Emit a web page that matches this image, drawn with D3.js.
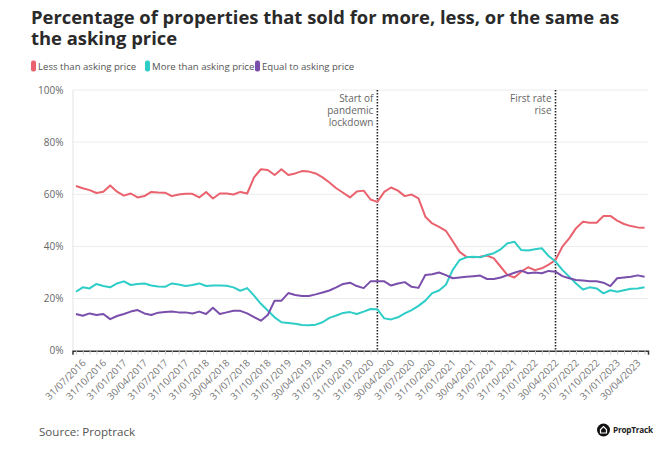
<!DOCTYPE html>
<html>
<head>
<meta charset="utf-8">
<script src="https://cdn.jsdelivr.net/npm/d3@7"></script>
<style>
  html, body { margin: 0; padding: 0; background: #fff; }
  svg { display: block; font-family: "Open Sans", "Noto Sans", sans-serif; }
</style>
</head>
<body>
<svg id="chart" width="659" height="454"></svg>
<script>
const dates = [
  "31/07/2016","31/08/2016","30/09/2016","31/10/2016","30/11/2016","31/12/2016",
  "31/01/2017","28/02/2017","31/03/2017","30/04/2017","31/05/2017","30/06/2017",
  "31/07/2017","31/08/2017","30/09/2017","31/10/2017","30/11/2017","31/12/2017",
  "31/01/2018","28/02/2018","31/03/2018","30/04/2018","31/05/2018","30/06/2018",
  "31/07/2018","31/08/2018","30/09/2018","31/10/2018","30/11/2018","31/12/2018",
  "31/01/2019","28/02/2019","31/03/2019","30/04/2019","31/05/2019","30/06/2019",
  "31/07/2019","31/08/2019","30/09/2019","31/10/2019","30/11/2019","31/12/2019",
  "31/01/2020","29/02/2020","31/03/2020","30/04/2020","31/05/2020","30/06/2020",
  "31/07/2020","31/08/2020","30/09/2020","31/10/2020","30/11/2020","31/12/2020",
  "31/01/2021","28/02/2021","31/03/2021","30/04/2021","31/05/2021","30/06/2021",
  "31/07/2021","31/08/2021","30/09/2021","31/10/2021","30/11/2021","31/12/2021",
  "31/01/2022","28/02/2022","31/03/2022","30/04/2022","31/05/2022","30/06/2022",
  "31/07/2022","31/08/2022","30/09/2022","31/10/2022","30/11/2022","31/12/2022",
  "31/01/2023","28/02/2023","31/03/2023","30/04/2023","31/05/2023","30/06/2023"
];

const lessThanAsking = [
  63.2,62.3,61.6,60.5,61.0,63.4,61.0,59.5,60.3,58.8,59.3,60.9,
  60.7,60.6,59.3,59.9,60.2,60.2,58.8,60.9,58.4,60.3,60.3,59.9,
  60.9,60.3,66.5,69.6,69.3,67.4,69.6,67.4,68.0,68.9,68.7,68.0,
  66.5,64.5,62.3,60.6,58.8,61.1,61.4,58.0,57.1,60.9,62.6,61.4,
  59.3,59.9,58.4,51.4,48.8,47.5,46.0,42.0,37.9,36.0,35.8,36.0,
  36.5,35.4,32.2,29.0,28.1,30.3,32.0,30.9,31.6,33.0,34.8,39.9,
  43.1,47.0,49.5,49.1,49.1,51.7,51.7,49.9,48.6,47.8,47.3,47.2
];

const moreThanAsking = [
  22.6,24.3,23.9,25.6,24.8,24.3,25.8,26.6,25.2,25.6,25.8,25.0,
  24.6,24.5,25.8,25.4,24.8,25.2,25.8,24.8,25.0,25.0,24.9,24.3,
  23.0,24.0,21.1,18.0,15.4,12.8,10.9,10.6,10.3,9.9,9.8,10.0,
  10.9,12.6,13.5,14.5,14.8,14.1,15.0,16.0,15.9,12.4,12.0,12.8,
  14.3,15.6,17.2,19.2,22.1,23.1,25.3,31.0,34.8,35.8,36.0,35.8,
  36.7,37.4,38.9,41.2,41.8,38.6,38.4,38.9,39.3,36.3,34.2,31.0,
  28.4,25.8,23.5,24.3,23.9,22.0,23.2,22.6,23.2,23.8,23.9,24.3
];

const equalToAsking = [
  14.1,13.4,14.3,13.7,14.1,12.1,13.3,14.1,15.0,15.6,14.3,13.7,
  14.6,14.8,15.0,14.7,14.7,14.3,15.0,14.1,16.5,14.1,14.7,15.3,
  15.3,14.3,12.9,11.5,13.7,19.2,19.2,22.1,21.4,21.0,21.0,21.6,
  22.3,23.1,24.3,25.6,26.1,24.8,24.0,26.6,26.6,26.6,25.0,25.8,
  26.3,24.5,24.1,29.0,29.3,30.0,29.0,27.8,28.1,28.4,28.6,28.8,
  27.5,27.5,28.1,29.0,29.9,30.7,29.7,30.0,29.7,30.6,30.3,28.6,
  27.8,27.1,26.9,26.6,26.6,26.1,24.8,27.8,28.1,28.4,28.9,28.4
];

const seriesNames = ["Less than asking price", "More than asking price", "Equal to asking price"];
const seriesColors = ["#e9626e", "#2ecdc8", "#7a4fab"];

const xTickLabels = [
  "31/07/2016","31/10/2016","31/01/2017","30/04/2017","31/07/2017","31/10/2017",
  "31/01/2018","30/04/2018","31/07/2018","31/10/2018","31/01/2019","30/04/2019",
  "31/07/2019","31/10/2019","31/01/2020","30/04/2020","31/07/2020","31/10/2020",
  "31/01/2021","30/04/2021","31/07/2021","31/10/2021","31/01/2022","30/04/2022",
  "31/07/2022","31/10/2022","31/01/2023","30/04/2023"
];
const yTicks = [0, 20, 40, 60, 80, 100];

const events = [
  { date: "31/03/2020", lines: ["Start of", "pandemic", "lockdown"] },
  { date: "31/05/2022", lines: ["First rate", "rise"] }
];

const svg = d3.select("#chart");
const plotLeft = 72.5, plotRight = 648, plotTop = 90, plotBottom = 350.7;

const x = d3.scalePoint().domain(dates).range([plotLeft, plotRight]).padding(0.5);
const y = d3.scaleLinear().domain([0, 100]).range([plotBottom, plotTop]);

// Title
const title = svg.append("text")
  .attr("fill", "#2a2a2a").attr("font-size", 18.4).attr("font-weight", 700);
title.append("tspan").attr("x", 31).attr("y", 24).text("Percentage of properties that sold for more, less, or the same as");
title.append("tspan").attr("x", 31).attr("y", 44.5).text("the asking price");

// Legend
const legendX = [31, 145, 255];
seriesNames.forEach((n, i) => {
  const g = svg.append("g").attr("transform", `translate(${legendX[i]},0)`);
  g.append("rect").attr("x", 0).attr("y", 60.5).attr("width", 5).attr("height", 11)
    .attr("rx", 2).attr("fill", seriesColors[i]);
  g.append("text").attr("x", 7).attr("y", 69.8).attr("font-size", 9.6)
    .attr("fill", "#555").text(n);
});

// Gridlines
svg.append("g").selectAll("line").data(yTicks.filter(d => d > 0)).join("line")
  .attr("x1", plotLeft).attr("x2", plotRight)
  .attr("y1", d => y(d)).attr("y2", d => y(d))
  .attr("stroke", "#ececec").attr("stroke-width", 1);

// Y axis
const yAxis = svg.append("g").attr("transform", `translate(${plotLeft},0)`)
  .call(d3.axisLeft(y).tickValues(yTicks).tickFormat(d => d + "%").tickSize(0).tickPadding(9));
yAxis.select(".domain").attr("stroke", "#e3e3e3");
yAxis.selectAll("text").attr("font-size", 10).attr("fill", "#666")
  .attr("font-family", "\"Open Sans\", sans-serif");

// X axis
const xAxis = svg.append("g").attr("transform", `translate(0,${plotBottom})`)
  .call(d3.axisBottom(x).tickSize(4).tickFormat(d => xTickLabels.includes(d) ? d : ""));
xAxis.select(".domain").attr("stroke", "#333").attr("stroke-width", 1.5);
xAxis.selectAll(".tick line").attr("stroke", "#ccc");
xAxis.selectAll("text")
  .attr("font-size", 9.8).attr("fill", "#777")
  .attr("font-family", "\"Open Sans\", sans-serif")
  .attr("text-anchor", "end")
  .attr("dy", 0)
  .attr("transform", "translate(5,8) rotate(-45)");

// Event lines and labels
events.forEach(ev => {
  const ex = x(ev.date);
  svg.append("line").attr("x1", ex).attr("x2", ex).attr("y1", plotTop).attr("y2", plotBottom)
    .attr("stroke", "#222").attr("stroke-width", 1.6).attr("stroke-dasharray", "1.5,1.5");
  ev.lines.forEach((l, i) => {
    svg.append("text").attr("text-anchor", "end").attr("font-size", 10).attr("fill", "#666")
      .attr("x", ex - 4).attr("y", 102 + i * 12.2).text(l);
  });
});

// Lines
const allSeries = [lessThanAsking, moreThanAsking, equalToAsking];
const line = d3.line().x((d, i) => x(dates[i])).y(d => y(d));
allSeries.forEach((s, i) => {
  svg.append("path").datum(s).attr("d", line)
    .attr("fill", "none").attr("stroke", seriesColors[i])
    .attr("stroke-width", 2).attr("stroke-linejoin", "round");
});

// Footer
svg.append("text").attr("x", 39).attr("y", 436).attr("font-size", 11.6)
  .attr("fill", "#555").text("Source: Proptrack");

const logo = svg.append("g").attr("transform", "translate(603.5,430)");
logo.append("circle").attr("r", 6.5).attr("fill", "#111");
logo.append("path").attr("d", "M-3,3 V-0.5 L0,-3.5 L3,-0.5 V3 Z").attr("fill", "none")
  .attr("stroke", "#fff").attr("stroke-width", 1.2);
logo.append("text").attr("x", 9.5).attr("y", 3.2).attr("font-size", 8.2)
  .attr("font-weight", 700).attr("letter-spacing", -0.2).attr("fill", "#222").text("PropTrack");
</script>
</body>
</html>
